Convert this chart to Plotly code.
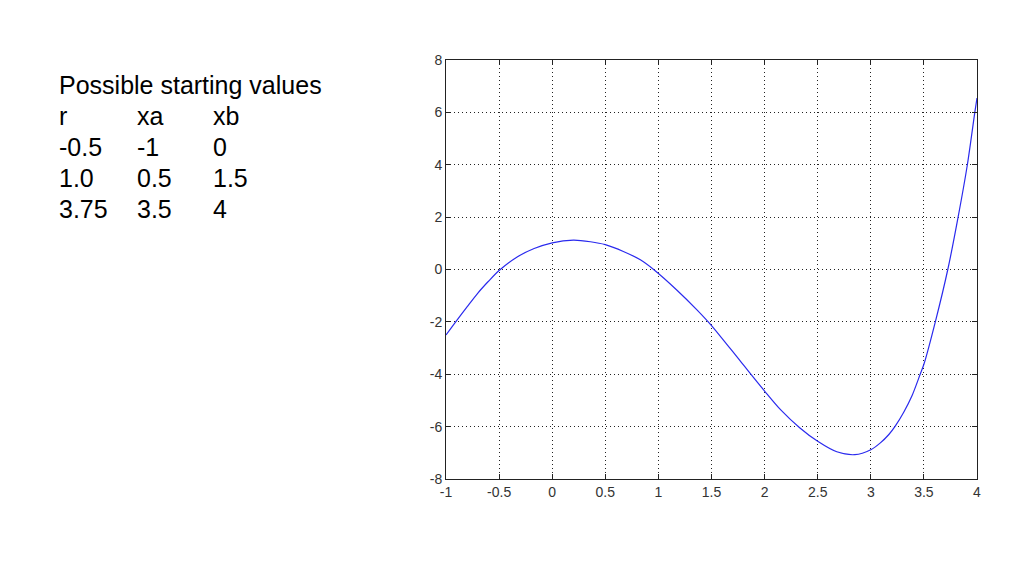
import plotly.graph_objects as go

# Curve values
x_vals = [-1.0, -0.9, -0.8, -0.7, -0.6, -0.5, -0.33, -0.17, 0.0, 0.2, 0.36, 0.5,
          0.67, 0.83, 0.955, 1.175, 1.363, 1.5, 1.77, 2.0, 2.15, 2.33, 2.5, 2.68, 2.85,
          3.0, 3.09, 3.17, 3.23, 3.31, 3.39, 3.465, 3.5, 3.61, 3.725, 3.822, 3.91, 3.98, 4.0]
y_vals = [-2.50, -1.95, -1.42, -0.90, -0.45, -0.04, 0.48, 0.80, 1.02, 1.12, 1.06, 0.95,
          0.69, 0.37, 0.0, -0.79, -1.54, -2.14, -3.49, -4.64, -5.35, -6.04, -6.56, -6.96, -7.07,
          -6.88, -6.62, -6.30, -5.98, -5.45, -4.80, -4.00, -3.62, -1.96, 0.0, 2.0, 4.02, 6.02, 6.55]

x_ticks = [-1, -0.5, 0, 0.5, 1, 1.5, 2, 2.5, 3, 3.5, 4]
x_tick_labels = ["-1", "-0.5", "0", "0.5", "1", "1.5", "2", "2.5", "3", "3.5", "4"]
y_ticks = [-8, -6, -4, -2, 0, 2, 4, 6, 8]
y_tick_labels = ["-8", "-6", "-4", "-2", "0", "2", "4", "6", "8"]

table_title = "Possible starting values"
table_header = ["r", "xa", "xb"]
table_rows = [["-0.5", "-1", "0"], ["1.0", "0.5", "1.5"], ["3.75", "3.5", "4"]]

fig = go.Figure()
fig.add_trace(go.Scatter(x=x_vals, y=y_vals, mode="lines",
                         line=dict(color="#2a2aee", width=1.2, shape="spline", smoothing=0.8),
                         showlegend=False, hoverinfo="skip"))

# screen-pixel plot box (page body has an 8px margin)
OFF = 8
L, R, T, B = 445.5, 977.0, 60.0, 479.0
W, H = R - L, B - T

def px_to_paper(px, py):
    return (px - L) / W, (B - py) / H

FONT = "Liberation Sans, Arial"
annotations = []
col_x = [56, 134, 210]
row_y = [85, 116, 147, 178, 209]
fx, fy = px_to_paper(col_x[0], row_y[0])
annotations.append(dict(x=fx, y=fy, xref="paper", yref="paper", text=table_title,
                        showarrow=False, xanchor="left", yanchor="middle",
                        font=dict(family=FONT, size=25, color="black")))
for r_i, row in enumerate([table_header] + table_rows):
    for c_i, cell in enumerate(row):
        fx, fy = px_to_paper(col_x[c_i], row_y[r_i + 1])
        annotations.append(dict(x=fx, y=fy, xref="paper", yref="paper", text=cell,
                                showarrow=False, xanchor="left", yanchor="middle",
                                font=dict(family=FONT, size=25, color="black")))

axis_common = dict(showgrid=True, gridcolor="#222", griddash="1px,3px", gridwidth=1,
                   showline=True, linecolor="#222", linewidth=1, mirror="ticks",
                   ticks="inside", ticklen=5, tickcolor="#222", zeroline=False,
                   tickfont=dict(family=FONT, size=14, color="#333"))

fig.update_layout(
    width=1024 - OFF, height=576 - OFF,
    margin=dict(l=L - OFF, r=1024 - R, t=T - OFF, b=576 - B, autoexpand=False),
    paper_bgcolor="white", plot_bgcolor="white",
    xaxis=dict(range=[-1, 4], tickvals=x_ticks, ticktext=x_tick_labels, **axis_common),
    yaxis=dict(range=[-8, 8], tickvals=y_ticks, ticktext=y_tick_labels, **axis_common),
    annotations=annotations,
)
fig.write_html("out.html")
